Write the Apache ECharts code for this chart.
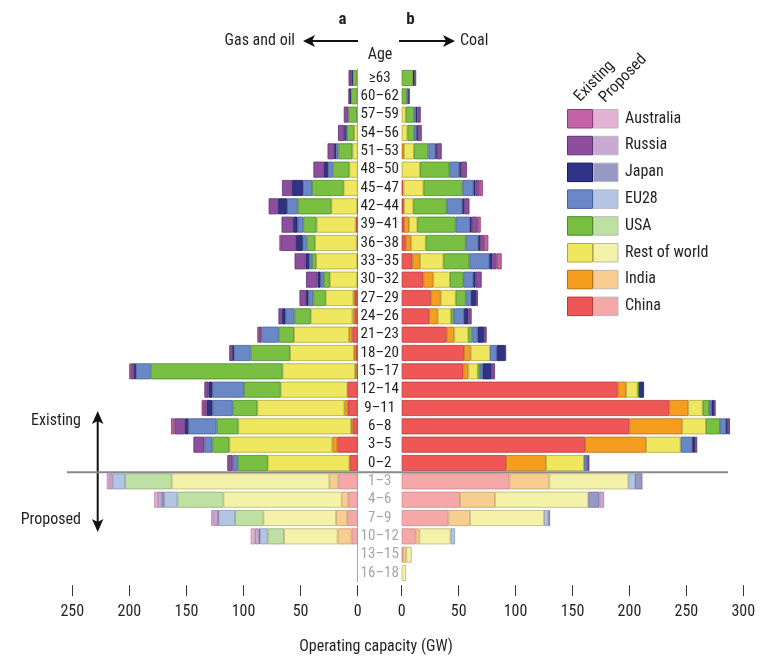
<!DOCTYPE html>
<html>
<head>
<meta charset="utf-8">
<script src="https://cdn.jsdelivr.net/npm/echarts@6/dist/echarts.min.js"></script>
<style>
html, body { margin: 0; padding: 0; background: #fff; }
#chart { width: 761px; height: 658px; }
</style>
</head>
<body>
<div id="chart"></div>
<script>
// Age classes (years): operating units, then units proposed to come online
const existingAges = ['≥63','60–62','57–59','54–56','51–53','48–50','45–47','42–44','39–41','36–38','33–35','30–32','27–29','24–26','21–23','18–20','15–17','12–14','9–11','6–8','3–5','0–2'];
const proposedAges = ['1–3','4–6','7–9','10–12','13–15','16–18'];
const countries = ['China','India','Rest of world','USA','EU28','Japan','Russia','Australia'];
const gasTicks = [0, 50, 100, 150, 200, 250];
const coalTicks = [0, 50, 100, 150, 200, 250, 300];

// Gas and oil capacity (GW); 22 existing classes followed by 6 proposed classes
const gasChina     = [0,0,0,0,0,0,0,0.5,1.8,0.9,0.5,0.5,2.3,2.3,4.7,1.8,0.9,9.1,8.5,4.4,17.8,7.3, 16.9,8.2,9.1,5.3,0,0];
const gasIndia     = [0,0,0,0,0,0,0,0,0,0,0,0,1.5,2.3,2.9,1.5,1.5,0,3.2,1.5,4.4,0, 7.9,5.8,9.9,12.3,0,0];
const gasRest      = [0.8,0.4,0.7,3.2,4.6,7.3,12.3,22.5,34.2,36.5,35.9,23.9,24.2,36.5,48.2,56,63.4,58.4,76.2,98.7,90.2,71.5, 138.1,103.6,63.6,47,0,0];
const gasUSA       = [3.5,5.8,7.5,6.1,12.3,14.6,27.7,29.5,11.7,7.3,3.5,5.3,10.8,14.3,13.4,34.5,115.6,32.1,21.6,19,14.9,26.3, 40.9,40.3,24.8,14.3,0,0];
const gasEU28      = [0,0,0,1.2,2.2,4.1,7.9,9.3,5,3.5,2.6,2.9,4.4,7.9,15.2,14.6,12.8,27.7,17.8,24.8,7,4.4, 10.8,11.7,14.6,6.7,0,0];
const gasJapan     = [1.2,0.6,0,1.2,1.5,3.5,9.6,7.9,3.8,5.8,3.2,2.6,2.3,3.2,0,1.5,1.8,3.5,5,2.9,0,0, 0,2,0.6,0.8,0,0];
const gasRussia    = [2.5,1.4,4,5.5,5.8,9.3,8.8,8.3,10.2,13.1,9.6,10,5.5,2.9,2.3,2.6,3,3.5,3,9.3,9.6,4.7, 2.9,3.5,3.8,3.5,0,0];
const gasAustralia = [0,0,0,0,0,0,0,0,0,1.5,0,0,0,0,1.2,0,1.1,0,1.4,2.9,0,0, 2.3,3.2,2,3.8,0,0];

// Coal capacity (GW); same class order
const coalChina     = [0,0,0,0,0,0,1.5,1.5,2,3.5,9.4,19,25.5,24,39.5,54.7,54.2,189.7,235,199.9,161,91.6, 94.6,51.2,41,12.3,1,0];
const coalIndia     = [0,0,0,0,2,0,0,0.5,4.4,4.7,6.7,8.8,8.8,7.6,6.7,5.9,4.4,7.3,16.7,46.5,53.6,35.1, 35.1,30.7,19,3.2,3,0];
const coalRest      = [0,0,3.5,5,8.8,16.1,17.6,8.2,7.3,12.9,20.5,14.6,13.2,11.7,12.3,17,8.2,10.2,12.6,20.8,30.4,33.4, 69.4,82,65,27.5,4.8,3.8];
const coalUSA       = [10.2,4.4,7.3,5.9,12.6,25.8,34.3,29.3,33.7,35.1,22.8,11.7,8.8,2.6,3.5,0,2,1.2,5.6,12.3,0,0, 0,0,0,0,0,0];
const coalEU28      = [0,1.5,1.8,2.3,6.4,8.8,9.7,13.8,12.6,11.1,17.6,8.8,4.7,8.8,4.7,5.9,2.3,0,2.3,5.3,10.2,2.9, 5.9,0,3.8,3.8,0,0];
const coalJapan     = [0.5,1,1.2,0.9,0.9,1.2,1.5,1.5,1.5,1.5,2.6,2,4.4,3.8,5.6,7.3,7.9,4.4,2,1.5,2.3,0, 6.4,9.7,1.5,0,0,0];
const coalRussia    = [2,0,2.9,3.5,4.4,5.3,3.8,4.7,5.3,3.5,3.8,5.3,1.5,2.9,2.3,0.9,2.9,0,1.5,2,2,1.8, 0,4.1,0,0,0,0];
const coalAustralia = [0,0,0,0,0,0,2.9,0,2.6,3.8,4.4,0,0,0,0,0,0,0,0,0,0,0, 0,0,0,0,0,0];

const gasSeries  = [gasChina, gasIndia, gasRest, gasUSA, gasEU28, gasJapan, gasRussia, gasAustralia];
const coalSeries = [coalChina, coalIndia, coalRest, coalUSA, coalEU28, coalJapan, coalRussia, coalAustralia];

// Palette: strong shade for existing units, pale shade for proposed units
const existingColors = ['#ef5656','#f59d1e','#efe85f','#78bf42','#6a88c6','#2f3387','#8d4f9d','#c462a6'];
const proposedColors = ['#f6a8a8','#f8cd90','#f4f2a9','#bfe0a3','#b4c4e3','#9799c4','#c9a8d1','#e4b2d4'];
const existingBorders = ['#b23c3c','#b87014','#b0a83c','#4f8a2a','#46609a','#1a1d5a','#5f3270','#8c3f75'];
const proposedBorders = ['#c98b8b','#c9a06a','#b9b67a','#8fb077','#8a98b8','#73759c','#9c80a4','#b68aa8'];

const FONT = "'Roboto Condensed', 'Liberation Sans Narrow', 'Arial Narrow', sans-serif";
const TEXT = '#231f20';
const nExisting = existingAges.length;
const ages = existingAges.concat(proposedAges);

const categoryData = ages.map((a, i) => ({
  value: a,
  textStyle: { color: i < nExisting ? TEXT : '#a3a6aa' }
}));

function buildSeries(values, k, side) {
  return {
    name: countries[k] + (side === 0 ? ' gas' : ' coal'),
    type: 'bar',
    stack: side === 0 ? 'gas' : 'coal',
    xAxisIndex: side,
    yAxisIndex: side,
    barWidth: 16,
    silent: true,
    data: values.map((v, i) => {
      if (!v) return '-';
      const proposed = i >= nExisting;
      return {
        value: v,
        itemStyle: {
          color: proposed ? proposedColors[k] : existingColors[k],
          borderColor: proposed ? proposedBorders[k] : existingBorders[k],
          borderWidth: 0.8
        }
      };
    })
  };
}

const series = [];
gasSeries.forEach((vals, k) => series.push(buildSeries(vals, k, 0)));
coalSeries.forEach((vals, k) => series.push(buildSeries(vals, k, 1)));

const tickAxis = (idx, ticks, inverse) => ({
  type: 'value',
  gridIndex: idx,
  min: ticks[0],
  max: ticks[ticks.length - 1],
  interval: ticks[1] - ticks[0],
  inverse: inverse,
  position: 'bottom',
  offset: 3,
  axisLine: { show: false },
  axisTick: { show: true, length: 11, lineStyle: { color: '#333', width: 1 } },
  splitLine: { show: false },
  axisLabel: {
    margin: 19,
    fontFamily: FONT,
    fontSize: 16,
    color: TEXT,
    formatter: v => String(v)
  }
});

// Legend rows, listed top to bottom
const legendOrder = [7, 6, 5, 4, 3, 2, 1, 0];
const legendGraphics = [];
legendOrder.forEach((k, r) => {
  const y = 109 + r * 26.8;
  legendGraphics.push({
    type: 'rect', left: 567, top: y, silent: true,
    shape: { width: 25, height: 18.5 },
    style: { fill: existingColors[k], stroke: existingBorders[k], lineWidth: 1 }
  });
  legendGraphics.push({
    type: 'rect', left: 593, top: y, silent: true,
    shape: { width: 24.5, height: 18.5 },
    style: { fill: proposedColors[k], stroke: '#b9b9b9', lineWidth: 1 }
  });
  legendGraphics.push({
    type: 'text', x: 625, y: y + 9.5, silent: true,
    style: { text: countries[k], font: '16px ' + FONT, fill: TEXT, verticalAlign: 'middle', align: 'left' }
  });
});

const decorations = [
  // Panel letters and direction arrows
  { type: 'text', x: 342.5, y: 20, silent: true,
    style: { text: 'a', font: 'bold 17px ' + FONT, fill: TEXT, align: 'center', verticalAlign: 'middle' } },
  { type: 'text', x: 410.5, y: 20, silent: true,
    style: { text: 'b', font: 'bold 17px ' + FONT, fill: TEXT, align: 'center', verticalAlign: 'middle' } },
  { type: 'text', x: 295, y: 41, silent: true,
    style: { text: 'Gas and oil', font: '16px ' + FONT, fill: TEXT, align: 'right', verticalAlign: 'middle' } },
  { type: 'line', silent: true, shape: { x1: 358, y1: 41, x2: 312, y2: 41 }, style: { stroke: '#111', lineWidth: 2 } },
  { type: 'polygon', silent: true, shape: { points: [[303, 41], [315, 35], [312, 41], [315, 47]] }, style: { fill: '#111' } },
  { type: 'text', x: 460, y: 41, silent: true,
    style: { text: 'Coal', font: '16px ' + FONT, fill: TEXT, align: 'left', verticalAlign: 'middle' } },
  { type: 'line', silent: true, shape: { x1: 399, y1: 41, x2: 446, y2: 41 }, style: { stroke: '#111', lineWidth: 2 } },
  { type: 'polygon', silent: true, shape: { points: [[455, 41], [443, 35], [446, 41], [443, 47]] }, style: { fill: '#111' } },
  { type: 'text', x: 380, y: 55, silent: true,
    style: { text: 'Age', font: '16px ' + FONT, fill: TEXT, align: 'center', verticalAlign: 'middle' } },
  // Legend column headers
  { type: 'text', x: 583, y: 105, rotation: 46 * Math.PI / 180, silent: true,
    style: { text: 'Existing', font: '16px ' + FONT, fill: TEXT, align: 'left', verticalAlign: 'bottom' } },
  { type: 'text', x: 608, y: 106, rotation: 46 * Math.PI / 180, silent: true,
    style: { text: 'Proposed', font: '16px ' + FONT, fill: TEXT, align: 'left', verticalAlign: 'bottom' } },
  // Existing / proposed marker on the left
  { type: 'text', x: 81, y: 421, silent: true,
    style: { text: 'Existing', font: '16px ' + FONT, fill: TEXT, align: 'right', verticalAlign: 'middle' } },
  { type: 'text', x: 81, y: 520, silent: true,
    style: { text: 'Proposed', font: '16px ' + FONT, fill: TEXT, align: 'right', verticalAlign: 'middle' } },
  { type: 'line', silent: true, shape: { x1: 97.7, y1: 420, x2: 97.7, y2: 523 }, style: { stroke: '#111', lineWidth: 2 } },
  { type: 'polygon', silent: true, shape: { points: [[97.7, 411], [92, 424], [97.7, 421], [103.4, 424]] }, style: { fill: '#111' } },
  { type: 'polygon', silent: true, shape: { points: [[97.7, 532], [92, 519], [97.7, 522], [103.4, 519]] }, style: { fill: '#111' } },
  // Axis title
  { type: 'text', x: 376, y: 647, silent: true,
    style: { text: 'Operating capacity (GW)', font: '16px ' + FONT, fill: TEXT, align: 'center', verticalAlign: 'middle' } }
];

const chart = echarts.init(document.getElementById('chart'), null, { renderer: 'canvas' });

chart.setOption({
  animation: false,
  backgroundColor: '#fff',
  grid: [
    { left: 72.3, width: 285.4, top: 68.8, height: 513.4 },
    { left: 401.7, width: 341.6, top: 68.8, height: 513.4 }
  ],
  xAxis: [tickAxis(0, gasTicks, true), tickAxis(1, coalTicks, false)],
  yAxis: [
    {
      type: 'category', gridIndex: 0, data: ages, inverse: true, position: 'right',
      axisLine: { show: true, lineStyle: { color: '#a8a8a8', width: 1 } },
      axisTick: { show: false }, axisLabel: { show: false }, splitLine: { show: false }
    },
    {
      type: 'category', gridIndex: 1, data: categoryData, inverse: true, position: 'left',
      axisLine: { show: false }, axisTick: { show: false }, splitLine: { show: false },
      axisLabel: {
        interval: 0, margin: 0, fontFamily: FONT, fontSize: 15, color: TEXT,
        formatter: v => '{c|' + v + '}',
        rich: { c: { width: 44, align: 'center', fontFamily: FONT, fontSize: 15 } }
      }
    }
  ],
  series: series,
  graphic: legendGraphics.concat(decorations)
});

// Rule between operating and proposed classes, placed on the category boundary
const yLast = chart.convertToPixel({ yAxisIndex: 1 }, existingAges[nExisting - 1]);
const yNext = chart.convertToPixel({ yAxisIndex: 1 }, proposedAges[0]);
const ySep = (yLast + yNext) / 2;
chart.setOption({
  graphic: legendGraphics.concat(decorations, [{
    type: 'line', silent: true, z: 100,
    shape: { x1: 67, y1: ySep, x2: 728, y2: ySep },
    style: { stroke: '#8a8a8a', lineWidth: 2 }
  }])
});
</script>
</body>
</html>
